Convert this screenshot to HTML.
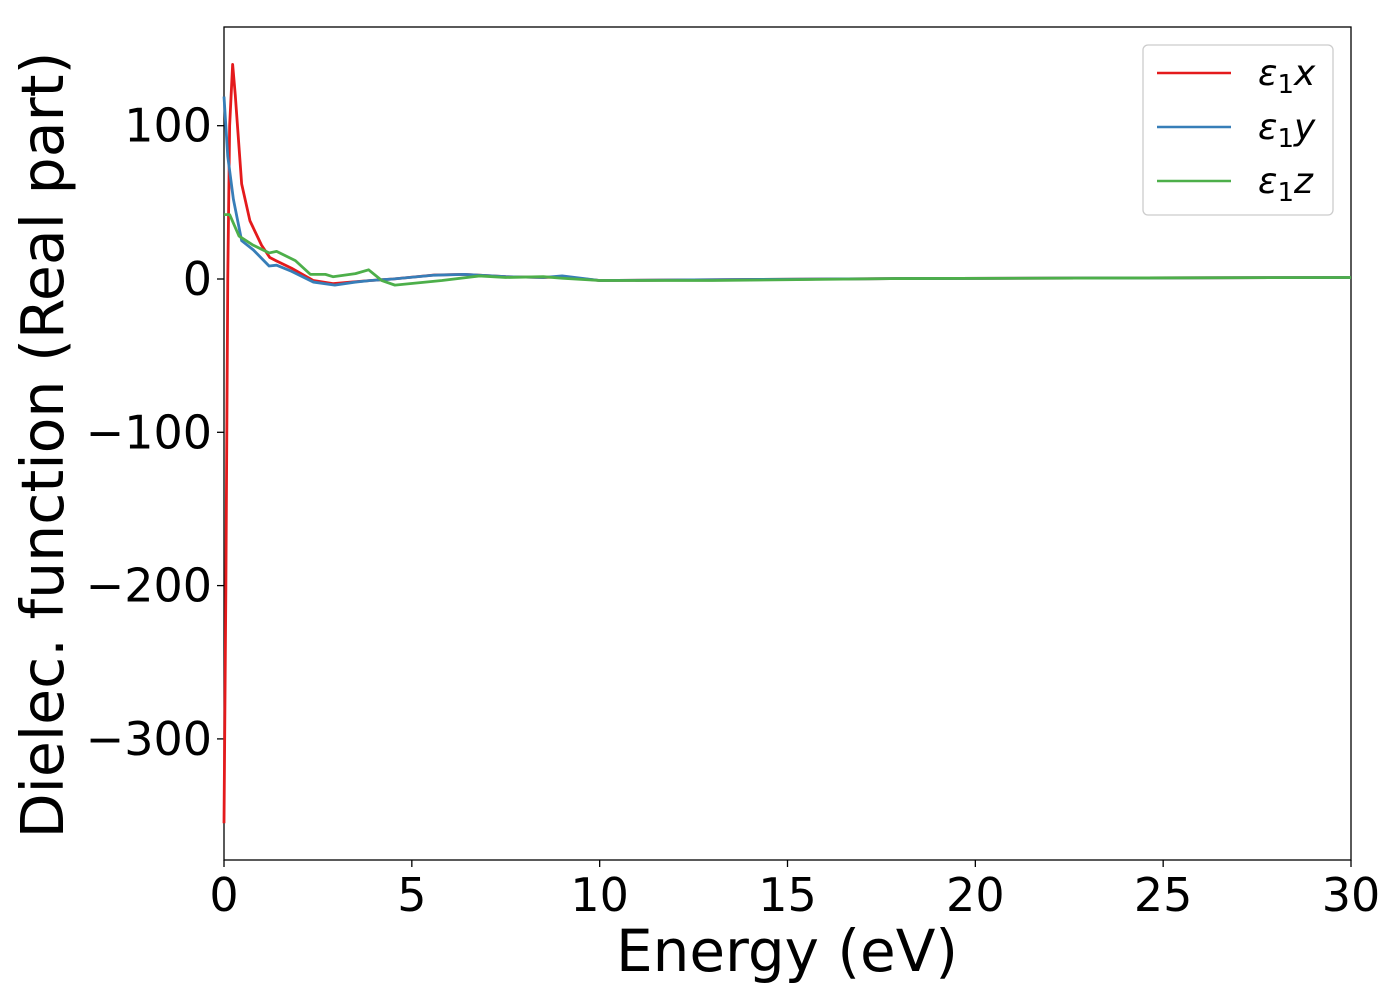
<!DOCTYPE html>
<html><head><meta charset="utf-8"><style>
body{margin:0;background:#fff;}
svg text{font-family:"DejaVu Sans","Liberation Sans",sans-serif;fill:#000;}
</style></head><body>
<svg id="chart" width="1400" height="1000" xmlns="http://www.w3.org/2000/svg">
<g id="plot"></g>
</svg>
<script>
const xTicks=[0,5,10,15,20,25,30];
const yTicks=[100,0,-100,-200,-300];
const yTickLabels=["100","0","\u2212100","\u2212200","\u2212300"];
const energyX=[0,0.05,0.1,0.15,0.23,0.3,0.47,0.69,1.0,1.22,1.38,1.8,2.38,2.9,3.4,3.9,4.5,5.6,6.4,7.5,8.5,9.0,10,13,18,30];
const eps1x=[-355,-200,0,100,140,120,62,38,22,14,12,7,-1,-3,-2,-1,0,2.6,3,1.5,1,1.5,-1,-0.5,0.3,1];
const energyY=[0,0.1,0.25,0.47,0.78,1.2,1.4,1.8,2.38,2.95,3.5,3.9,4.5,5.6,6.4,7.5,8.5,9.0,10,13,18,30];
const eps1y=[119,80,52,25,19,8.5,9,5,-2,-4,-2,-1,0,2.5,3,1.5,1,2,-1,-0.5,0.3,1];
const energyZ=[0,0.15,0.4,0.78,1.2,1.4,1.9,2.3,2.7,2.9,3.5,3.85,4.2,4.55,5.8,6.8,7.5,8.5,9.0,10,13,18,30];
const eps1z=[42,42,28,22,17,18,12,3,3,1.5,3.5,6,-1,-4,-1,2,1,1.5,0.5,-1,-1,0.3,1];

const L=224,R=1351,T=27,B=860;
const xs=v=>L+(v-0)/30*(R-L);
const ys=v=>279-v*1.533;
const NS="http://www.w3.org/2000/svg";
const g=document.getElementById('plot');
function mk(t,a){const e=document.createElementNS(NS,t);for(const k in a)e.setAttribute(k,a[k]);g.appendChild(e);return e;}
const frame=mk('rect',{x:L,y:T,width:R-L,height:B-T,fill:'none',stroke:'#000','stroke-width':1.3});


xTicks.forEach(v=>{
 const t=mk('line',{x1:xs(v),x2:xs(v),y1:B,y2:B+7,stroke:'#000','stroke-width':1.3});
 
 
 const l=mk('text',{x:xs(v),y:911,'font-size':46,'text-anchor':'middle'});l.textContent=v;
 
 
});
yTicks.forEach((v,i)=>{
 const t=mk('line',{x1:L-7,x2:L,y1:ys(v),y2:ys(v),stroke:'#000','stroke-width':1.3});
 
 
 const l=mk('text',{x:212,y:ys(v)+16,'font-size':46,'text-anchor':'end'});l.textContent=yTickLabels[i];
 
 
});
function series(xa,ya,c,n){
 const p=mk('polyline',{points:xa.map((x,i)=>xs(x)+','+ys(ya[i])).join(' '),fill:'none',stroke:c,'stroke-width':2.8,'stroke-linejoin':'round'});
 
 
}
series(energyX,eps1x,'#e41a1c','series-eps1x');
series(energyY,eps1y,'#377eb8','series-eps1y');
series(energyZ,eps1z,'#4daf4a','series-eps1z');
const xt=mk('text',{x:787,y:971,'font-size':58,'text-anchor':'middle'});xt.textContent='Energy (eV)';


const yt=mk('text',{x:0,y:0,'font-size':58.5,'text-anchor':'middle',transform:'translate(63,445) rotate(-90)'});yt.textContent='Dielec. function (Real part)';


const lb=mk('rect',{x:1143,y:45,width:190,height:170,rx:5,fill:'#fff',stroke:'#ccc','stroke-width':1.3});


[['#e41a1c','x'],['#377eb8','y'],['#4daf4a','z']].forEach((e,i)=>{
 const y=73+i*54;
 const ln=mk('line',{x1:1157,x2:1231,y1:y,y2:y,stroke:e[0],'stroke-width':2.5});
 
 
 const t=mk('text',{x:1258,y:y+12,'font-size':36,'font-style':'italic'});
 t.innerHTML='\u03b5<tspan font-style="normal" font-size="26" dy="8">1</tspan><tspan dy="-8">'+e[1]+'</tspan>';
 
 
});
</script>
</body></html>
